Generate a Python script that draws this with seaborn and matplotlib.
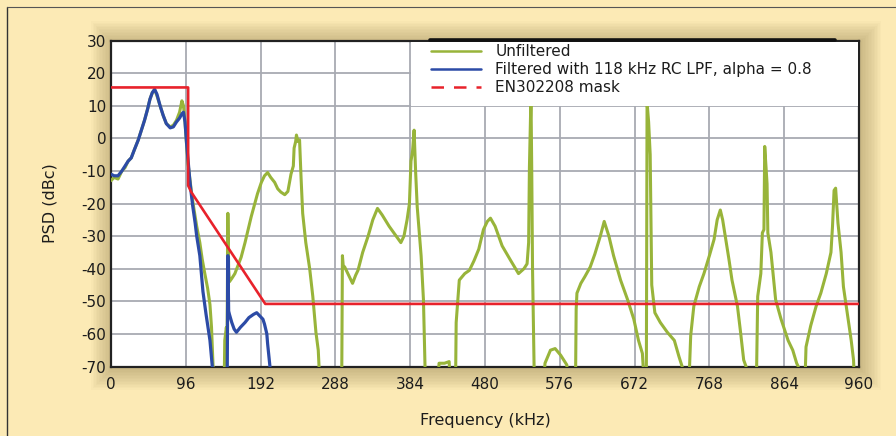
import numpy as np
import pandas as pd
import matplotlib
matplotlib.use("Agg")
import matplotlib.pyplot as plt
import seaborn as sns
from matplotlib.lines import Line2D
from matplotlib.patches import Rectangle

# ---------------- data ----------------
unf_freq = [0, 4, 9, 14, 18, 22, 26, 30, 35, 39, 43, 47, 50, 53, 56, 59, 63, 67, 71, 76, 80, 84, 88, 91, 93, 95, 97, 99,
            101, 103, 106, 110, 114, 117, 120, 124, 127, 129, 131, 133,
            145, 146, 148, 149, 150, 151, 152, 155, 159, 163, 167, 172, 176, 180, 184, 188, 193, 197, 201, 205, 210,
            214, 218, 223, 227, 231, 234, 235, 237, 238, 240, 242, 244, 246, 250, 255, 259, 263, 266, 267, 269,
            296, 297, 298, 300, 304, 310, 314, 317, 323, 330, 336, 342, 348, 357, 366, 372, 376, 380, 383, 385, 387,
            389, 391, 393, 398, 401, 402, 403, 404,
            419, 421, 428, 434, 436,
            442, 443, 447, 454, 460, 466, 472, 478, 483, 487, 493, 502, 513, 523, 530, 534, 536, 537, 539, 540, 541,
            543, 544,
            554, 557, 564, 570, 577, 585, 587,
            596, 597, 598, 603, 608, 615, 621, 628, 633, 639, 645, 654, 663, 671, 677, 682, 683, 685,
            687, 688, 690, 692, 694, 698, 705, 714, 723, 729, 733, 735,
            741, 744, 748, 755, 761, 768, 774, 778, 782, 785, 789, 793, 797, 804, 808, 812, 815, 817,
            828, 830, 834, 836, 838, 839, 841, 842, 843, 847, 853, 860, 869, 875, 880, 882, 884,
            890, 892, 898, 905, 911, 918, 924, 926, 928, 930, 933, 937, 940, 946, 950, 953, 955, 960]
unf_psd = [-13, -12, -12.5, -10, -9, -7, -6, -3.5, -0.5, 2.5, 5.5, 9, 12, 14, 15, 13, 10, 7, 4.5, 3.5, 4, 5.5, 8, 11.5, 10, 5, -2, -8,
           -12, -16, -21, -27, -32, -37, -41, -46, -51, -58, -70, -80,
           -80, -62, -58, -60, -23, -40, -44, -43, -41.5, -39, -36.5, -32, -28, -24, -20.5, -17, -13.5, -11.5, -10.5, -12, -13.5,
           -15.5, -16.5, -17.3, -16.3, -11, -8.5, -3, -1, 1, -1, -0.5, -12.5, -23, -32, -40, -48.5, -59.5, -65, -70, -80,
           -80, -36, -39, -39.5, -41.5, -44.5, -42, -40.5, -35, -30, -25, -21.5, -23.5, -27, -30, -32, -30, -25, -20, -7, -4,
           2.5, -10.5, -21, -36, -49.5, -60, -70, -80,
           -80, -69, -69, -68.5, -80,
           -80, -56.5, -43.5, -41.5, -40.5, -37.5, -34, -28, -25.5, -24.5, -27, -33, -37.5, -41.5, -40, -38.5, -32, -9, 13, -10, -40,
           -70, -80,
           -80, -69, -65, -64.5, -66.5, -69.5, -80,
           -80, -52.5, -47.5, -44.5, -42.5, -39.5, -35.5, -30, -25.5, -30, -36, -43.5, -49.5, -55.5, -62, -66, -70, -80,
           -80, 11, 5, -5, -45, -53.5, -56.5, -59.5, -62, -67, -70, -80,
           -80, -60.5, -51.5, -45.5, -41.5, -36, -31, -25, -22, -25, -31, -37, -43.5, -51.5, -59.5, -68, -70, -80,
           -80, -48.5, -41.5, -29, -28, -2.5, -10, -14, -29, -35, -49.5, -55.5, -62, -65, -69, -70, -80,
           -80, -64, -57.5, -51.5, -47.5, -41.5, -35, -27, -16, -15.3, -26, -35, -45.5, -55.5, -62, -68, -80, -80]

filt_freq = [0, 4, 9, 14, 18, 22, 26, 30, 35, 39, 43, 47, 50, 53, 56, 59, 63, 67, 71, 76, 80, 84, 88, 91, 93, 95, 97, 99,
             101, 103, 105, 108, 110, 114, 118, 122, 127, 130, 132,
             149, 150, 151, 152, 155, 158, 161, 166, 172, 177, 183, 187, 191, 195, 197, 200, 201, 204, 206]
filt_psd = [-11, -11.5, -11.5, -10, -8.5, -7, -6, -3.5, -0.5, 2.5, 5.5, 9, 12, 14, 15, 13.5, 10, 7, 4.5, 3.2, 3.5, 5, 6.2, 7.5, 8, 5, -1.5, -7,
            -12.5, -17, -21, -26, -30, -36, -47, -54, -62, -70, -80,
            -80, -36, -53, -54, -56.5, -58.5, -59.5, -58, -56.5, -55, -54, -53.5, -54.5, -55.5, -57, -60, -63, -70, -80]

mask_freq = [0, 99, 99, 103, 198, 960]
mask_psd = [15.6, 15.6, -14.5, -16.5, -50.8, -50.8]

x_ticks = [0, 96, 192, 288, 384, 480, 576, 672, 768, 864, 960]
y_ticks = [30, 20, 10, 0, -10, -20, -30, -40, -50, -60, -70]
series_labels = ["Unfiltered", "Filtered with 118 kHz RC LPF, alpha = 0.8", "EN302208 mask"]

# ---------------- style ----------------
sns.set_theme(style="white")
plt.rcParams["font.family"] = ["DejaVu Sans"]
plt.rcParams["axes.unicode_minus"] = False

BG = "#FCEAB5"
GREEN = "#98B43A"
BLUE = "#2C4BA6"
RED = "#E8222B"
TXT = "#1c1c1c"

W, H = 896, 436
L, R, T, B = 111, 859, 40.5, 366.5

fig = plt.figure(figsize=(W / 100, H / 100), dpi=100, facecolor=BG)

# soft shadow around the plot area
for i in range(14, 0, -1):
    pad = i * 1.5
    fig.add_artist(Rectangle(((L - pad + 1) / W, 1 - (B + pad + 2) / H),
                             (R - L + 2 * pad) / W, (B - T + 2 * pad) / H,
                             transform=fig.transFigure, facecolor="#7a6535",
                             alpha=0.028, edgecolor="none", zorder=-5))
# figure border (top and left)
fig.add_artist(Line2D([7 / W, 7 / W], [0, 1 - 7 / H], transform=fig.transFigure, color="#333333", lw=1.0, zorder=-4))
fig.add_artist(Line2D([7 / W, 1], [1 - 7 / H, 1 - 7 / H], transform=fig.transFigure, color="#555555", lw=0.8, zorder=-4))

ax = fig.add_axes([L / W, 1 - B / H, (R - L) / W, (B - T) / H])
ax.set_facecolor("white")

sns.lineplot(x=unf_freq, y=unf_psd, ax=ax, color=GREEN, lw=2.2, sort=False, estimator=None, zorder=3)
sns.lineplot(x=filt_freq, y=filt_psd, ax=ax, color=BLUE, lw=2.3, sort=False, estimator=None, zorder=4)
sns.lineplot(x=mask_freq, y=mask_psd, ax=ax, color=RED, lw=1.9, sort=False, estimator=None, zorder=5)

ax.set_xlim(0, 960)
ax.set_ylim(-70, 30)
ax.set_xticks(x_ticks)
ax.set_xticklabels([str(v) for v in x_ticks])
ax.set_yticks(y_ticks)
ax.set_yticklabels([str(v) for v in y_ticks])
ax.grid(True, color="#a8aab2", lw=1.3, zorder=1)
ax.set_axisbelow(True)
for s in ax.spines.values():
    s.set_color("#222222")
    s.set_linewidth(1.6)
    s.set_visible(True)
ax.tick_params(axis="both", length=0, labelsize=11, labelcolor=TXT)
ax.tick_params(axis="x", pad=7.5)
ax.tick_params(axis="y", pad=3.5)
ax.set_xlabel("Frequency (kHz)", fontsize=11.5, color=TXT, labelpad=15)
ax.set_ylabel("PSD (dBc)", fontsize=11.5, color=TXT, labelpad=17)

# legend background and legend
fig.add_artist(Rectangle((411 / W, 1 - 106 / H), (857.5 - 411) / W, (106 - 41.8) / H,
                         transform=fig.transFigure, facecolor="white", edgecolor="none", zorder=2))
fig.add_artist(Line2D([430 / W, 835 / W], [1 - 40.5 / H, 1 - 40.5 / H], transform=fig.transFigure,
                      color="#111111", lw=2.6, zorder=3))
handles = [Line2D([], [], color=GREEN, lw=1.8),
           Line2D([], [], color=BLUE, lw=1.8),
           Line2D([], [], color=RED, lw=1.8, dashes=(5, 4))]
leg = fig.legend(handles, series_labels, loc="upper left", bbox_to_anchor=(431 / W, 1 - 44 / H),
                 bbox_transform=fig.transFigure, frameon=False, fontsize=11, labelspacing=0.2,
                 handlelength=3.3, handletextpad=0.9, borderpad=0, borderaxespad=0)
leg.set_zorder(6)
for t in leg.get_texts():
    t.set_color(TXT)

fig.savefig("out.png", dpi=100, facecolor=BG)
